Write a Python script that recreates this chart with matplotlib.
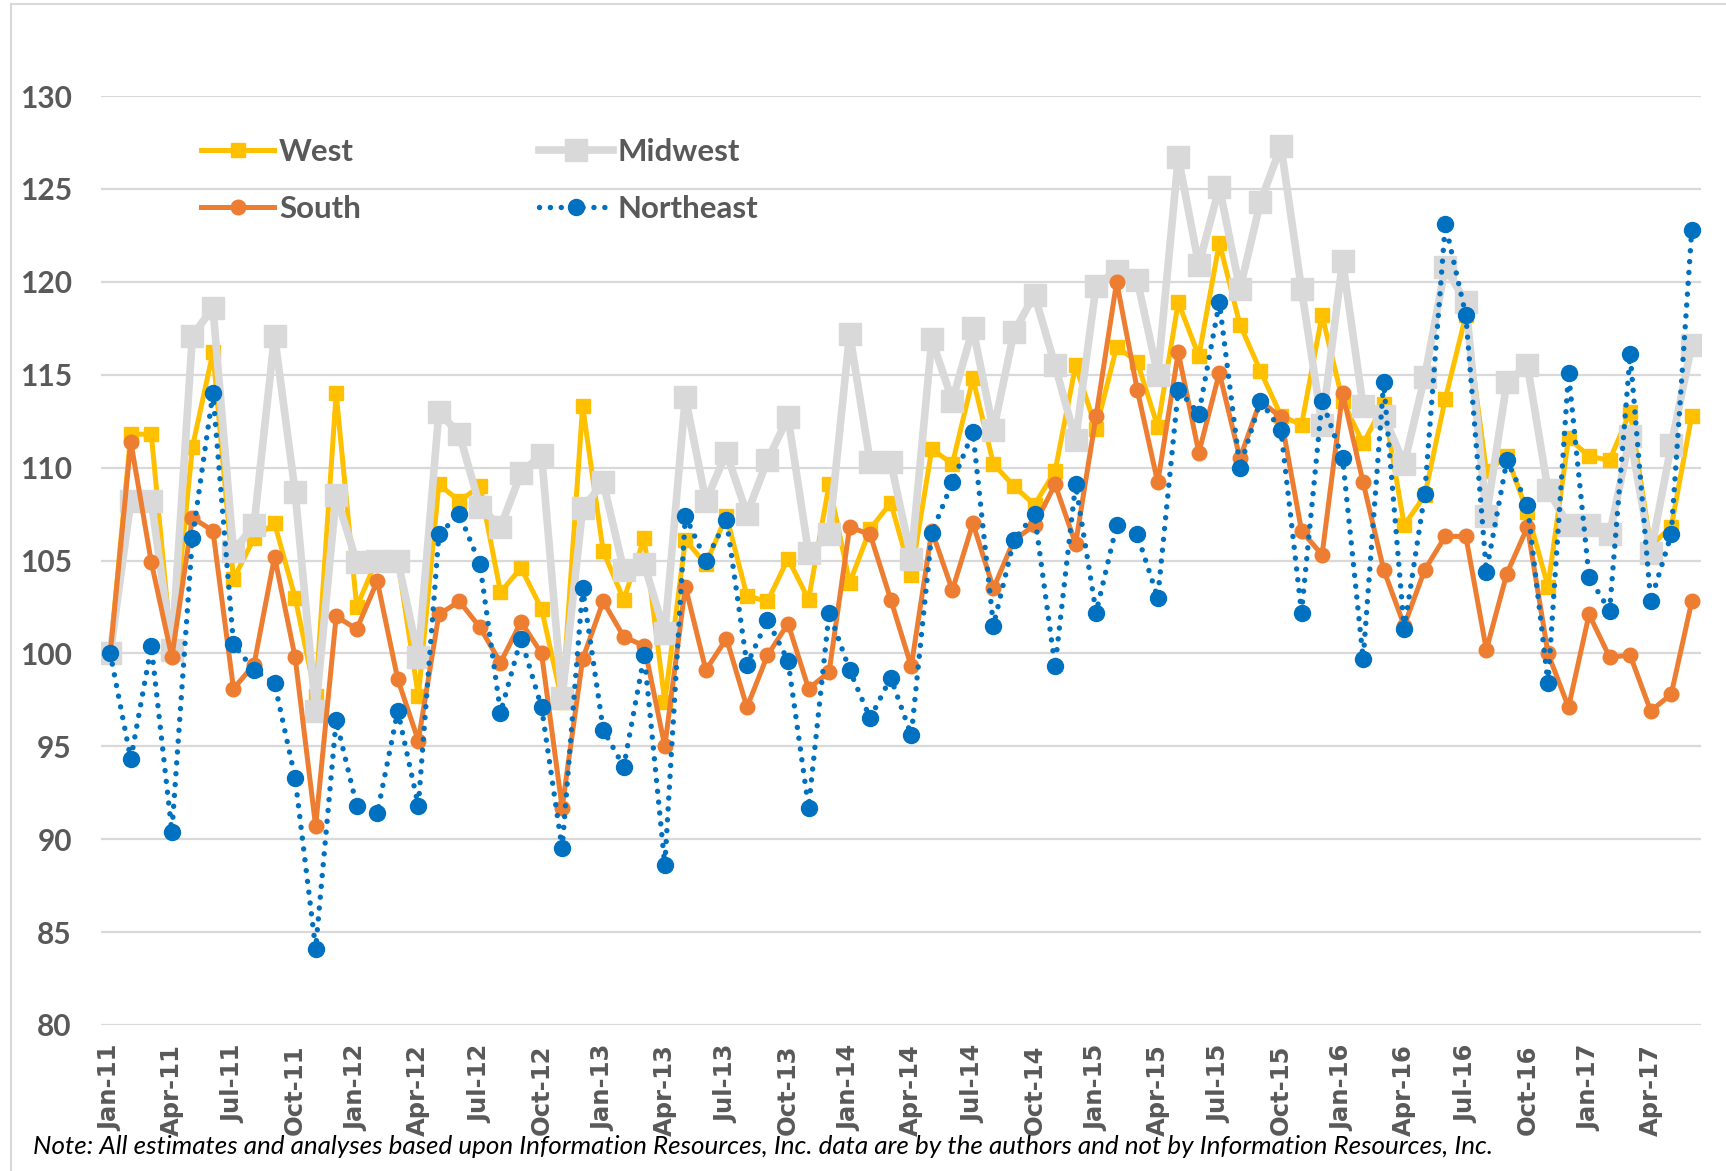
import pandas as pd
import matplotlib
matplotlib.use('Agg')
import matplotlib.pyplot as plt
from matplotlib.lines import Line2D

# Monthly index values, Jan-11 .. Jun-17 (Jan-11 = 100)
months = pd.date_range('2011-01-01', '2017-06-01', freq='MS')

west = [100.0, 111.8, 111.8, 100.0, 111.1, 116.2, 104.0, 106.2, 107.0, 103.0,
        97.7, 114.0, 102.5, 105.1, 105.0, 97.7, 109.1, 108.2, 109.0, 103.3,
        104.6, 102.4, 97.4, 113.3, 105.5, 102.9, 106.2, 97.4, 106.1, 104.8,
        107.4, 103.1, 102.8, 105.1, 102.9, 109.1, 103.8, 106.7, 108.1, 104.2,
        111.0, 110.2, 114.8, 110.2, 109.0, 108.0, 109.8, 115.5, 112.1, 116.5,
        115.7, 112.2, 118.9, 116.0, 122.1, 117.7, 115.2, 112.8, 112.3, 118.2,
        113.6, 111.3, 113.4, 106.9, 108.5, 113.7, 118.2, 109.8, 110.6, 107.6,
        103.6, 111.6, 110.6, 110.4, 113.0, 105.8, 106.8, 112.8]

midwest = [100.0, 108.2, 108.2, 100.2, 117.1, 118.6, 105.5, 106.9, 117.1, 108.7,
           96.9, 108.5, 104.9, 105.0, 105.0, 99.8, 113.0, 111.8, 107.9, 106.8,
           109.7, 110.7, 97.6, 107.8, 109.2, 104.5, 104.8, 101.1, 113.8, 108.2,
           110.8, 107.5, 110.4, 112.7, 105.4, 106.4, 117.2, 110.3, 110.3, 105.1,
           116.9, 113.6, 117.5, 112.0, 117.3, 119.3, 115.5, 111.5, 119.8, 120.6,
           120.1, 115.0, 126.7, 120.9, 125.1, 119.6, 124.3, 127.3, 119.6, 112.3,
           121.1, 113.3, 112.8, 110.2, 114.9, 120.8, 118.9, 107.4, 114.6, 115.5,
           108.8, 106.9, 106.9, 106.4, 111.7, 105.4, 111.2, 116.6]

south = [100.0, 111.4, 104.9, 99.8, 107.3, 106.6, 98.1, 99.4, 105.2, 99.8,
         90.7, 102.0, 101.3, 103.9, 98.6, 95.3, 102.1, 102.8, 101.4, 99.5,
         101.7, 100.0, 91.7, 99.7, 102.8, 100.9, 100.4, 95.0, 103.6, 99.1,
         100.8, 97.1, 99.9, 101.6, 98.1, 99.0, 106.8, 106.4, 102.9, 99.3,
         106.6, 103.4, 107.0, 103.5, 106.1, 106.9, 109.1, 105.9, 112.8, 120.0,
         114.2, 109.2, 116.2, 110.8, 115.1, 110.5, 113.6, 112.7, 106.6, 105.3,
         114.0, 109.2, 104.5, 101.5, 104.5, 106.3, 106.3, 100.2, 104.3, 106.8,
         100.0, 97.1, 102.1, 99.8, 99.9, 96.9, 97.8, 102.8]

northeast = [100.0, 94.3, 100.4, 90.4, 106.2, 114.0, 100.5, 99.1, 98.4, 93.3,
             84.1, 96.4, 91.8, 91.4, 96.9, 91.8, 106.4, 107.5, 104.8, 96.8,
             100.8, 97.1, 89.5, 103.5, 95.9, 93.9, 99.9, 88.6, 107.4, 105.0,
             107.2, 99.4, 101.8, 99.6, 91.7, 102.2, 99.1, 96.5, 98.7, 95.6,
             106.5, 109.2, 111.9, 101.5, 106.1, 107.5, 99.3, 109.1, 102.2, 106.9,
             106.4, 103.0, 114.2, 112.9, 118.9, 110.0, 113.6, 112.0, 102.2, 113.6,
             110.5, 99.7, 114.6, 101.3, 108.6, 123.1, 118.2, 104.4, 110.4, 108.0,
             98.4, 115.1, 104.1, 102.3, 116.1, 102.8, 106.4, 122.8]

labels = [m.strftime('%b-%y') for m in months]

W, H = 1726, 1171
fig = plt.figure(figsize=(W / 100, H / 100), dpi=100)
ax = fig.add_axes([101 / W, 1 - 1025 / H, (1701 - 101) / W, (1025 - 96) / H])

txt = '#595959'
font = ['Lato', 'DejaVu Sans']

x = list(range(len(months)))
l_w, = ax.plot(x, west, color='#FFC000', lw=3.6, marker='s', ms=10.5, label='West', zorder=3)
l_m, = ax.plot(x, midwest, color='#D9D9D9', lw=5.5, marker='s', ms=15.5, label='Midwest', zorder=4)
l_s, = ax.plot(x, south, color='#ED7D31', lw=3.6, marker='o', ms=10.5, label='South', zorder=5)
l_n, = ax.plot(x, northeast, color='#0070C0', lw=3.9, marker='o', ms=11.5,
               linestyle=(0, (0.01, 2.0)), dash_capstyle='round', label='Northeast', zorder=6)

ax.set_ylim(80, 130)
ax.set_yticks(range(80, 131, 5))
ax.set_xlim(-0.45, len(months) - 1 + 0.45)
ax.set_xticks(x[::3])
ax.set_xticklabels(labels[::3], rotation=90, fontsize=17.5, fontweight='bold',
                   color=txt, family='DejaVu Sans')
for t in ax.get_yticklabels():
    t.set_family(font)
    t.set_fontweight('bold')
    t.set_fontsize(21.5)
    t.set_color(txt)
ax.tick_params(axis='y', length=0, pad=21)
ax.tick_params(axis='x', length=0, pad=14)
ax.grid(axis='y', color='#D9D9D9', lw=1.6)
ax.set_axisbelow(True)
for s in ax.spines.values():
    s.set_visible(False)

# rows: West / Midwest, South / Northeast (matplotlib fills columns first)
leg = ax.legend([l_w, l_s, l_m, l_n], ['West', 'South', 'Midwest', 'Northeast'],
                ncol=2, loc='upper left', bbox_to_anchor=(201 / W, 1 - 138 / H),
                bbox_transform=fig.transFigure, frameon=False, borderpad=0,
                borderaxespad=0, handlelength=2.35, handletextpad=0.15,
                columnspacing=5.7, labelspacing=0.92,
                prop={'family': font, 'weight': 'bold', 'size': 22.5})
for t in leg.get_texts():
    t.set_color(txt)

note = fig.text(33 / W, 1 - 1146 / H,
                'Note: All estimates and analyses based upon Information Resources, Inc. '
                'data are by the authors and not by Information Resources, Inc.',
                family=font, style='italic', fontsize=18, color='black', va='center')
# fit the note to its width in the reference
r = fig.canvas.get_renderer()
wpx = note.get_window_extent(r).width
note.set_fontsize(18 * 1459 / wpx)

# light chart-area border (top and left edges visible)
fig.add_artist(Line2D([11 / W, 11 / W], [0, 1 - 4 / H], color='#D9D9D9', lw=1.5,
                      transform=fig.transFigure))
fig.add_artist(Line2D([11 / W, 1], [1 - 4 / H, 1 - 4 / H], color='#D9D9D9', lw=1.5,
                      transform=fig.transFigure))

fig.savefig('out.png', dpi=100)
